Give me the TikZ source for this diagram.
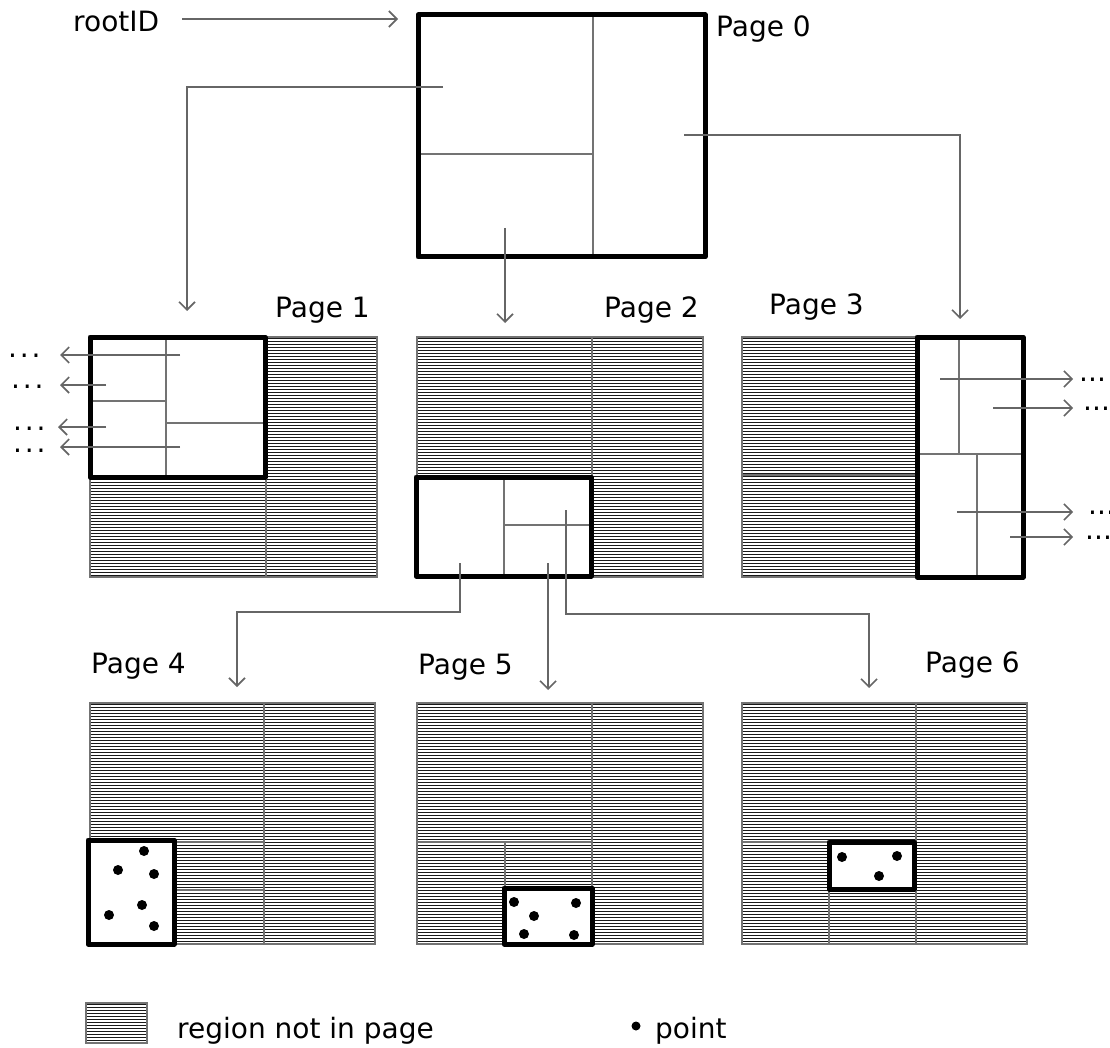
\documentclass[tikz,border=0pt]{standalone}
\usepackage{fontspec}
\setmainfont{DejaVu Sans}
\usetikzlibrary{arrows.meta}

\tikzset{
  ptr/.style={draw=black!60, line width=2pt},
  ptrarrow/.style={ptr, -{Straight Barb[length=8pt,width=16pt,line width=1.6pt]}},
  divider/.style={draw=black!55, line width=2pt},
  pagebox/.style={draw=black, line width=5pt, line join=round},
  hatchline/.style={draw=black!90, line width=1.7pt},
  label/.style={inner sep=0pt, anchor=base west, font=\fontsize{28pt}{32pt}\selectfont},
  ellip/.style={label, text height=5pt, text depth=0pt},
  pt/.style={fill=black},
}

% spaced-out ellipsis used for pointers leading off the figure
\newcommand\offdots{.\kern2.8pt.\kern2.8pt.}

% horizontal hatching of a rectangle given by its corners (x1,y1) (x2,y2)
\newcommand\hatchrect[4]{%
  \begin{scope}
    \clip (#1,#2) rectangle (#3,#4);
    \draw[hatchline] \foreach \k in {0,...,90} {(#1,{#2+1.5+3*\k}) -- (#3,{#2+1.5+3*\k})};
  \end{scope}
  \draw[divider] (#1,#2) rectangle (#3,#4);
}

\begin{document}
\begin{tikzpicture}[x=1pt,y=-1pt]
\useasboundingbox (0,0) rectangle (1110,1048);
\clip (0,0) rectangle (1110,1048);

% ---------------- Page 0 (root) ----------------
\draw[divider] (593,15) -- (593,257);
\draw[divider] (418,154) -- (593,154);
\draw[pagebox] (418,15) rectangle (705,257);
\node[label] (p0) at (716,37) {Page 0};
\node[label] (root) at (73,32) {rootID};
\coordinate (rootstart) at (182,19);
\coordinate (rootend) at (398,19);
\draw[ptrarrow] (rootstart) -- (rootend);

\coordinate (p0a) at (443,87);
\coordinate (p0b) at (505,228);
\coordinate (p0c) at (684,135);
\coordinate (p1in) at (187,311);
\coordinate (p2in) at (505,323);
\coordinate (p3in) at (960,319);
\draw[ptrarrow] (p0a) -- (p1in |- p0a) -- (p1in);
\draw[ptrarrow] (p0b) -- (p2in);
\draw[ptrarrow] (p0c) -- (p3in |- p0c) -- (p3in);

% ---------------- Page 1 ----------------
\hatchrect{90}{337}{377}{577}
\draw[divider] (266,337) -- (266,577);
\fill[white] (90,337) rectangle (265,477);
\draw[divider] (166,337) -- (166,477);
\draw[divider] (90,401) -- (166,401);
\draw[divider] (166,423) -- (265,423);
\draw[pagebox] (90,337) rectangle (265,477);
\node[label] (p1) at (275,317) {Page 1};

\coordinate (a1) at (180,355);
\coordinate (a2) at (106,385);
\coordinate (a3) at (106,427);
\coordinate (a4) at (180,447);
\coordinate (a1t) at (60,355);
\coordinate (a2t) at (60,385);
\coordinate (a3t) at (58,427);
\coordinate (a4t) at (60,447);
\node[ellip] (d1) at (8,357) {\offdots};
\node[ellip] (d2) at (11,388) {\offdots};
\node[ellip] (d3) at (13,430) {\offdots};
\node[ellip] (d4) at (13,452) {\offdots};
\draw[ptrarrow] (a1) -- (a1t);
\draw[ptrarrow] (a2) -- (a2t);
\draw[ptrarrow] (a3) -- (a3t);
\draw[ptrarrow] (a4) -- (a4t);

% ---------------- Page 2 ----------------
\hatchrect{417}{337}{703}{577}
\draw[divider] (592,337) -- (592,577);
\fill[white] (416,477) rectangle (591,576);
\draw[divider] (504,477) -- (504,576);
\draw[divider] (504,525) -- (591,525);
\draw[pagebox] (416,477) rectangle (591,576);
\node[label] (p2) at (604,317) {Page 2};

\coordinate (b1) at (460,563);
\coordinate (b2) at (548,563);
\coordinate (b3) at (566,510);
\coordinate (p4in) at (237,687);
\coordinate (p5in) at (548,690);
\coordinate (p6in) at (869,688);
\draw[ptrarrow] (b1) -- (460,612) -- (p4in |- 0,612) -- (p4in);
\draw[ptrarrow] (b2) -- (p5in);
\draw[ptrarrow] (b3) -- (566,614) -- (p6in |- 0,614) -- (p6in);

% ---------------- Page 3 ----------------
\hatchrect{742}{337}{917}{577}
\draw[divider] (742,475) -- (917,475);
\fill[white] (917,337) rectangle (1023,577);
\draw[divider] (959,337) -- (959,454);
\draw[divider] (917,454) -- (1023,454);
\draw[divider] (977,454) -- (977,577);
\draw[pagebox] (917,337) rectangle (1023,577);
\node[label] (p3) at (769,315) {Page 3};

\coordinate (c1) at (940,379);
\coordinate (c2) at (993,408);
\coordinate (c3) at (957,512);
\coordinate (c4) at (1010,537);
\coordinate (c1t) at (1073,379);
\coordinate (c2t) at (1073,408);
\coordinate (c3t) at (1073,512);
\coordinate (c4t) at (1073,537);
\node[ellip] (f1) at (1079,381) {...};
\node[ellip] (f2) at (1083,410) {...};
\node[ellip] (f3) at (1088,514) {...};
\node[ellip] (f4) at (1085,539) {...};
\draw[ptrarrow] (c1) -- (c1t);
\draw[ptrarrow] (c2) -- (c2t);
\draw[ptrarrow] (c3) -- (c3t);
\draw[ptrarrow] (c4) -- (c4t);

% ---------------- Page 4 ----------------
\hatchrect{90}{703}{375}{944}
\draw[divider] (264,703) -- (264,944);
\draw[divider] (174,842) -- (264,842);
\draw[divider] (174,890) -- (264,890);
\fill[white] (88,840) rectangle (174,944);
\draw[pagebox] (88,840) rectangle (174,944);
\foreach \px/\py in {144/851, 118/870, 154/874, 142/905, 109/915, 154/926}
  \fill[pt] (\px,\py) circle (5);
\node[label] (p4) at (91,673) {Page 4};

% ---------------- Page 5 ----------------
\hatchrect{417}{703}{703}{944}
\draw[divider] (592,703) -- (592,944);
\draw[divider] (417,842) -- (592,842);
\draw[divider] (505,842) -- (505,944);
\fill[white] (504,888) rectangle (592,944);
\draw[pagebox] (504,888) rectangle (592,944);
\foreach \px/\py in {514/902, 576/903, 534/916, 524/934, 574/935}
  \fill[pt] (\px,\py) circle (5);
\node[label] (p5) at (418,674) {Page 5};

% ---------------- Page 6 ----------------
\hatchrect{742}{703}{1027}{944}
\draw[divider] (916,703) -- (916,944);
\draw[divider] (742,842) -- (916,842);
\draw[divider] (829,842) -- (829,944);
\fill[white] (829,842) rectangle (914,889);
\draw[pagebox] (829,842) rectangle (914,889);
\foreach \px/\py in {842/857, 897/856, 879/876}
  \fill[pt] (\px,\py) circle (5);
\node[label] (p6) at (925,672) {Page 6};

% ---------------- Legend ----------------
\hatchrect{86}{1003}{147}{1043}
\node[label] (lg1) at (177,1038) {region not in page};
\fill[pt] (636,1026) circle (4.5);
\node[label] (lg2) at (655,1038) {point};
\end{tikzpicture}
\end{document}
